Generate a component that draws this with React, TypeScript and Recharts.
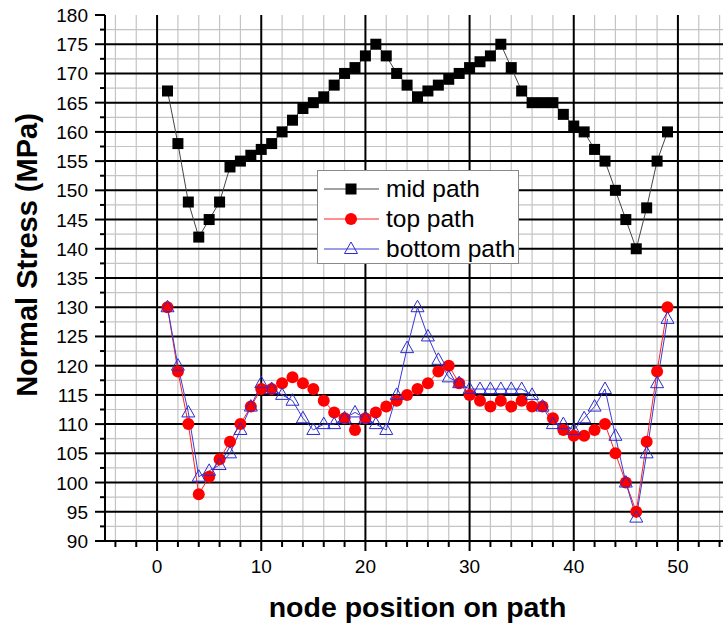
import React from 'react';
import { LineChart, Line, XAxis, YAxis, ReferenceLine, Legend } from 'recharts';

const nodes = [1, 2, 3, 4, 5, 6, 7, 8, 9, 10, 11, 12, 13, 14, 15, 16, 17, 18, 19, 20, 21, 22, 23, 24, 25, 26, 27, 28, 29, 30, 31, 32, 33, 34, 35, 36, 37, 38, 39, 40, 41, 42, 43, 44, 45, 46, 47, 48, 49];
const midPath = [167, 158, 148, 142, 145, 148, 154, 155, 156, 157, 158, 160, 162, 164, 165, 166, 168, 170, 171, 173, 175, 173, 170, 168, 166, 167, 168, 169, 170, 171, 172, 173, 175, 171, 167, 165, 165, 165, 163, 161, 160, 157, 155, 150, 145, 140, 147, 155, 160];
const topPath = [130, 119, 110, 98, 101, 104, 107, 110, 113, 116, 116, 117, 118, 117, 116, 114, 112, 111, 109, 111, 112, 113, 114, 115, 116, 117, 119, 120, 117, 115, 114, 113, 114, 113, 114, 113, 113, 111, 109, 108, 108, 109, 110, 105, 100, 95, 107, 119, 130];
const bottomPath = [130, 120, 112, 101, 102, 103, 105, 109, 113, 117, 116, 115, 114, 111, 109, 110, 110, 111, 112, 111, 110, 109, 115, 123, 130, 125, 121, 118, 117, 116, 116, 116, 116, 116, 116, 115, 113, 110, 110, 109, 111, 113, 116, 108, 100, 94, 105, 117, 128];

const xMajorTicks = [0, 10, 20, 30, 40, 50];
const xMinorTicks = [-4, -2, 2, 4, 6, 8, 12, 14, 16, 18, 22, 24, 26, 28, 32, 34, 36, 38, 42, 44, 46, 48, 52, 54];
const yMajorTicks = [90, 95, 100, 105, 110, 115, 120, 125, 130, 135, 140, 145, 150, 155, 160, 165, 170, 175, 180];
const yMinorTicks = [92.5, 97.5, 102.5, 107.5, 112.5, 117.5, 122.5, 127.5, 132.5, 137.5, 142.5, 147.5, 152.5, 157.5, 162.5, 167.5, 172.5, 177.5];
const xDomain = [-5, 55];
const yDomain = [90, 180];

const seriesDefs = [
  { key: 'mid', name: 'mid path', color: '#000000', lineColor: '#444444', marker: 'square' },
  { key: 'top', name: 'top path', color: '#ff0000', lineColor: '#ff2020', marker: 'circle' },
  { key: 'bottom', name: 'bottom path', color: '#2a2ad0', lineColor: '#3a3ad8', marker: 'triangle' },
];

const rows = nodes.map((n, i) => ({ node: n, mid: midPath[i], top: topPath[i], bottom: bottomPath[i] }));

const FONT = '"Liberation Sans", Arial, sans-serif';

function Marker({ cx, cy, kind, color }: any) {
  if (cx == null || cy == null) return null;
  if (kind === 'square') return <rect x={cx - 5.5} y={cy - 5.5} width={11} height={11} fill={color} />;
  if (kind === 'circle') return <circle cx={cx} cy={cy} r={6} fill={color} />;
  return (
    <polygon
      points={`${cx},${cy - 7} ${cx - 6.5},${cy + 4.5} ${cx + 6.5},${cy + 4.5}`}
      fill="none"
      stroke={color}
      strokeWidth={1}
    />
  );
}

const xAllTicks = [...xMajorTicks, ...xMinorTicks].sort((a, b) => a - b);
const yAllTicks = [...yMajorTicks, ...yMinorTicks].sort((a, b) => a - b);

function XTick({ x, y, payload }: any) {
  const v = payload.value;
  const major = xMajorTicks.includes(v);
  return (
    <g>
      <line x1={x} x2={x} y1={y} y2={y + (major ? 10 : 6)} stroke="#000" strokeWidth={2} />
      {major && (
        <text x={x} y={y + 32} textAnchor="middle" fontFamily={FONT} fontSize={19} fill="#000">
          {v}
        </text>
      )}
    </g>
  );
}

function YTick({ x, y, payload }: any) {
  const v = payload.value;
  const major = yMajorTicks.includes(v);
  return (
    <g>
      <line x1={x - (major ? 10 : 5)} x2={x} y1={y} y2={y} stroke="#000" strokeWidth={2} />
      {major && (
        <text x={x - 17} y={y + 7} textAnchor="end" fontFamily={FONT} fontSize={19} fill="#000">
          {v}
        </text>
      )}
    </g>
  );
}

function LegendBox() {
  return (
    <div
      style={{
        width: 202,
        height: 94,
        boxSizing: 'border-box',
        border: '1px solid #8a8a8a',
        background: '#fff',
        paddingTop: 3,
        fontFamily: FONT,
      }}
    >
      {seriesDefs.map((s) => (
        <div key={s.key} style={{ display: 'flex', alignItems: 'center', height: 30 }}>
          <svg width={68} height={24} style={{ display: 'block' }}>
            <line x1={6} x2={61} y1={12} y2={12} stroke={s.lineColor} strokeWidth={1} />
            <Marker cx={33} cy={12} kind={s.marker} color={s.color} />
          </svg>
          <span style={{ fontSize: 24.5, color: '#000', lineHeight: '26px' }}>{s.name}</span>
        </div>
      ))}
    </div>
  );
}

export default function App() {
  return (
    <div style={{ position: 'fixed', left: 0, top: 0, width: 723, height: 624, overflow: 'hidden', background: '#fff' }}>
      <LineChart width={745} height={624} data={rows} margin={{ top: 15, right: 15, bottom: 0, left: 0 }}>
        {xMinorTicks.map((v) => (
          <ReferenceLine key={`xm${v}`} x={v} stroke="#c4c4c4" strokeWidth={1.2} />
        ))}
        {yMinorTicks.map((v) => (
          <ReferenceLine key={`ym${v}`} y={v} stroke="#c4c4c4" strokeWidth={1.2} />
        ))}
        {xMajorTicks.map((v) => (
          <ReferenceLine key={`xM${v}`} x={v} stroke="#000" strokeWidth={2} />
        ))}
        {yMajorTicks.filter((v) => v !== 90 && v !== 180).map((v) => (
          <ReferenceLine key={`yM${v}`} y={v} stroke="#000" strokeWidth={2} />
        ))}
        <XAxis
          dataKey="node"
          type="number"
          domain={xDomain}
          ticks={xAllTicks}
          interval={0}
          allowDataOverflow
          tickSize={0}
          tickMargin={0}
          tickLine={false}
          axisLine={{ stroke: '#000', strokeWidth: 2 }}
          tick={<XTick />}
          height={83}
          label={(p: any) => {
            const vb = p.viewBox || {};
            return (
              <text
                x={417.5}
                y={(vb.y || 541) + 76}
                textAnchor="middle"
                fontFamily={FONT}
                fontWeight="bold"
                fontSize={28.5}
                fill="#000"
              >
                node position on path
              </text>
            );
          }}
        />
        <YAxis
          type="number"
          domain={yDomain}
          ticks={yAllTicks}
          interval={0}
          allowDataOverflow
          tickSize={0}
          tickMargin={0}
          tickLine={false}
          axisLine={{ stroke: '#000', strokeWidth: 2 }}
          tick={<YTick />}
          width={105}
          label={() => (
            <text
              x={0}
              y={0}
              transform="translate(37, 255) rotate(-90)"
              textAnchor="middle"
              fontFamily={FONT}
              fontWeight="bold"
              fontSize={29}
              fill="#000"
            >
              Normal Stress (MPa)
            </text>
          )}
        />
        {seriesDefs.map((s) => (
          <Line
            key={s.key}
            type="linear"
            dataKey={s.key}
            name={s.name}
            stroke={s.lineColor}
            strokeWidth={1}
            isAnimationActive={false}
            dot={(p: any) => <Marker key={`${s.key}-${p.index}`} cx={p.cx} cy={p.cy} kind={s.marker} color={s.color} />}
            activeDot={false}
          />
        ))}
        <Legend
          layout="vertical"
          align="center"
          verticalAlign="middle"
          content={<LegendBox />}
          wrapperStyle={{ position: 'absolute', left: 317, top: 170, width: 202, height: 94 }}
        />
      </LineChart>
    </div>
  );
}
